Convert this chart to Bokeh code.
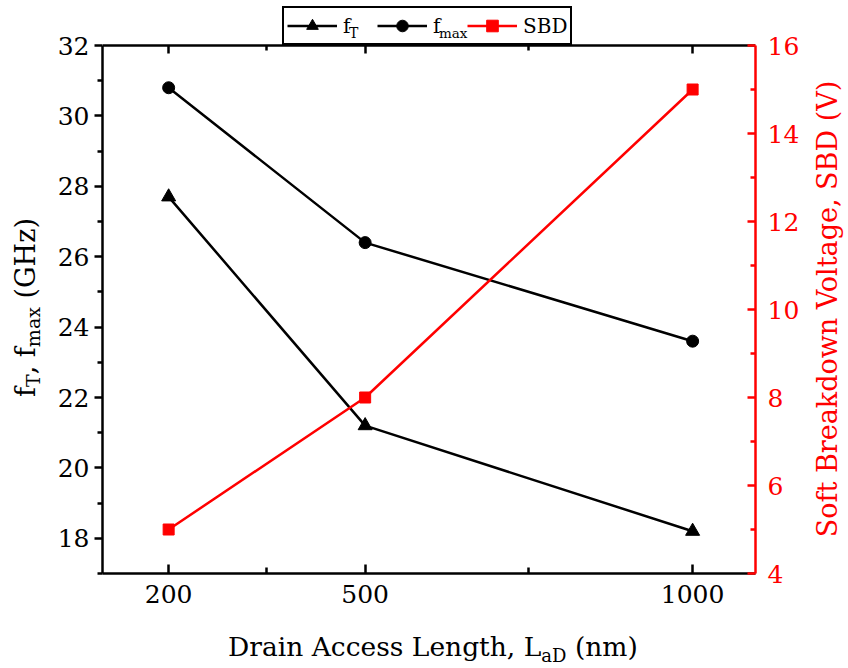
from bokeh.plotting import figure
from bokeh.models import Range1d, LinearAxis, FixedTicker, Legend, LegendItem, Div
from bokeh.layouts import column
from bokeh.embed import file_html
from bokeh.resources import INLINE

# ---- data ----
lad_nm = [200, 500, 1000]
ft_ghz = [27.7, 21.2, 18.2]
fmax_ghz = [30.8, 26.4, 23.6]
sbd_v = [5.0, 8.0, 15.0]

x_ticks = [200, 500, 1000]
x_minor = [350, 750]
y_ticks = [18, 20, 22, 24, 26, 28, 30, 32]
y_minor = [17, 19, 21, 23, 25, 27, 29, 31]
y2_ticks = [4, 6, 8, 10, 12, 14, 16]
y2_minor = [5, 7, 9, 11, 13, 15]

FONT = "DejaVu Serif"
RED = "#ff0000"
BLACK = "#000000"
W, H = 848, 668

# axis extents (the frame also holds the legend strip above y = 32 / 16)
Y_LO, Y_HI = 17, 32
Y2_LO, Y2_HI = 4, 16
TOP = 3                      # frame top (px)
HEAD = (45 - TOP) / 528      # legend strip height as a fraction of the axes box height

p = figure(width=W, height=H, output_backend="svg", toolbar_location=None,
           x_range=Range1d(99, 1096),
           y_range=Range1d(Y_LO, Y_HI + (Y_HI - Y_LO) * HEAD),
           min_border_left=102, min_border_right=93, min_border_top=TOP, min_border_bottom=95)
p.extra_y_ranges = {"sbd": Range1d(Y2_LO, Y2_HI + (Y2_HI - Y2_LO) * HEAD)}
p.outline_line_color = None
p.xgrid.visible = False
p.ygrid.visible = False
p.background_fill_color = "white"
p.border_fill_color = "white"


def style_axis(ax, color, tin, tout, min_in, min_out, standoff):
    ax.axis_line_color = color
    ax.axis_line_width = 2.5
    ax.major_tick_line_color = color
    ax.major_tick_line_width = 2.5
    ax.minor_tick_line_color = color
    ax.minor_tick_line_width = 2.5
    ax.major_tick_in = tin
    ax.major_tick_out = tout
    ax.minor_tick_in = min_in
    ax.minor_tick_out = min_out
    ax.major_label_text_font = FONT
    ax.major_label_text_font_size = "25px"
    ax.major_label_text_color = color
    ax.major_label_standoff = standoff
    ax.axis_label = None


xa = p.xaxis[0]
xa.ticker = FixedTicker(ticks=x_ticks, minor_ticks=x_minor)
style_axis(xa, BLACK, 9, 0, 6, 0, 11)

ya = p.yaxis[0]
ya.ticker = FixedTicker(ticks=y_ticks, minor_ticks=y_minor)
ya.bounds = (Y_LO, Y_HI)
style_axis(ya, BLACK, 0, 8, 0, 5, 5)

ra = LinearAxis(y_range_name="sbd", ticker=FixedTicker(ticks=y2_ticks, minor_ticks=y2_minor),
                bounds=(Y2_LO, Y2_HI))
style_axis(ra, RED, 8, 0, 5, 0, 12)
p.add_layout(ra, "right")

# top border with inward ticks, fixed at y = 32
ta = LinearAxis(ticker=FixedTicker(ticks=x_ticks, minor_ticks=x_minor), fixed_location=Y_HI)
style_axis(ta, BLACK, 8, 0, 5, 0, 0)
ta.major_label_overrides = {t: "" for t in x_ticks}
ta.major_label_text_font_size = "1px"
p.add_layout(ta, "above")

# ---- data marks ----
l1 = p.line(lad_nm, ft_ghz, line_color=BLACK, line_width=2.5)
s1 = p.scatter(lad_nm, ft_ghz, marker="triangle", size=14, fill_color=BLACK, line_color=BLACK)
l2 = p.line(lad_nm, fmax_ghz, line_color=BLACK, line_width=2.5)
s2 = p.scatter(lad_nm, fmax_ghz, marker="circle", size=12, fill_color=BLACK, line_color=BLACK)
l3 = p.line(lad_nm, sbd_v, line_color=RED, line_width=2.5, y_range_name="sbd")
s3 = p.scatter(lad_nm, sbd_v, marker="square", size=11, fill_color=RED, line_color=RED, y_range_name="sbd")

# ---- legend in the strip above the axes box ----
legend = Legend(items=[LegendItem(label="f", renderers=[l1, s1]),
                       LegendItem(label="f", renderers=[l2, s2]),
                       LegendItem(label="SBD", renderers=[l3, s3])],
                orientation="horizontal", location=(180, 528), margin=0, padding=3, spacing=12,
                glyph_width=50, glyph_height=29, label_standoff=6, label_width=22,
                label_text_font=FONT, label_text_font_size="20px", label_text_color=BLACK,
                border_line_color=BLACK, border_line_width=2, border_line_alpha=1.0,
                background_fill_color="white", background_fill_alpha=1.0)
p.add_layout(legend)


# ---- composite texts with subscripts (HTML overlay, real text) ----
def bl(size):
    # distance from top of a line box (line-height = font size) to the alphabetic baseline
    return 0.846 * size


def sub(text, size, shift):
    return f'<span style="font-size:{size}px;vertical-align:-{shift}px">{text}</span>'


def span(inner, left, top, size, color=BLACK, extra=""):
    return (f'<span style="position:absolute;left:{left:.1f}px;top:{top:.1f}px;'
            f'font-family:\'{FONT}\';font-size:{size}px;line-height:{size}px;color:{color};'
            f'white-space:nowrap;{extra}">{inner}</span>')


ROT = "transform-origin:0 0;transform:rotate(-90deg);"
parts = [
    # legend subscripts
    span("T", 349, 38 - bl(14), 14),
    span("max", 439, 38 - bl(13.5), 13.5),
    # bottom title
    span("Drain Access Length, L" + sub("aD", 18, 6) + " (nm)", 228, 656 - bl(26.5), 26.5),
    # left title (reads bottom to top)
    span("f" + sub("T", 19, 5) + ", f" + sub("max", 19, 5) + " (GHz)", 35 - bl(27), 397, 27, extra=ROT),
    # right title
    span("Soft Breakdown Voltage, SBD (V)", 837 - bl(27), 573, 27, color=RED,
         extra=ROT + "width:528px;text-align:center;"),
]
overlay_html = (f'<div style="position:relative;width:{W}px;height:{H}px;pointer-events:none">'
                + "".join(parts) + "</div>")
overlay = Div(text=overlay_html, width=W, height=H, margin=(-H, 0, 0, 0),
              styles={"position": "relative", "z-index": "10", "pointer-events": "none"})

layout = column(p, overlay, spacing=0)
open("out.html", "w").write(file_html(layout, INLINE))
